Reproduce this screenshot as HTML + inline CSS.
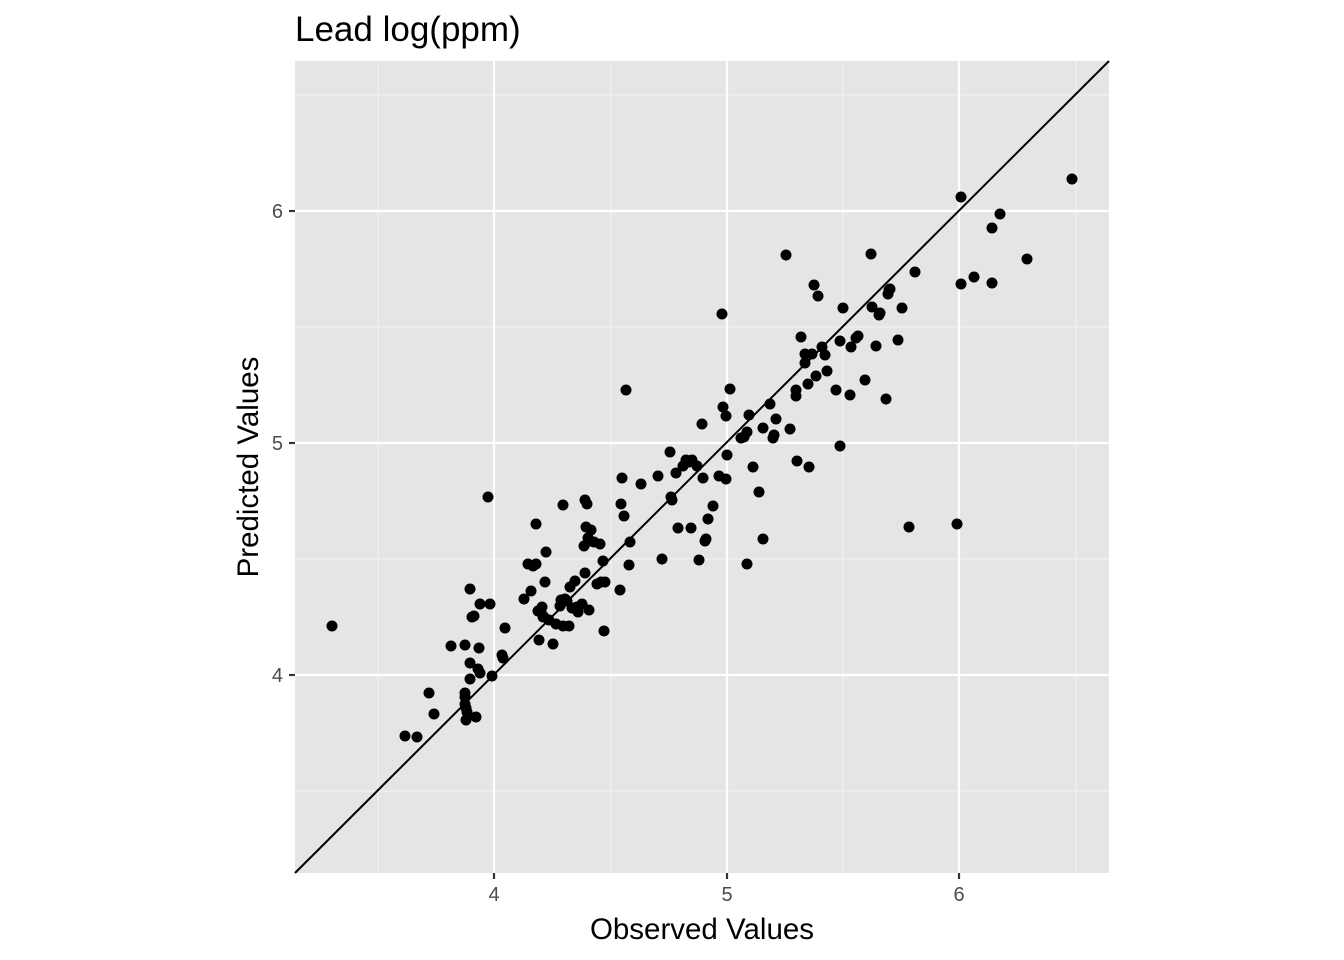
<!DOCTYPE html>
<html><head><meta charset="utf-8"><style>body{margin:0;background:#fff}svg{display:block}</style></head><body>
<svg width="1344" height="960" xmlns="http://www.w3.org/2000/svg" font-family="Liberation Sans, Arial, sans-serif">
<rect x="295" y="61" width="814" height="812" fill="#e5e5e5"/>
<g stroke="#f2f2f2" stroke-width="1.1">
<line x1="378" y1="61" x2="378" y2="873"/><line x1="611" y1="61" x2="611" y2="873"/><line x1="843" y1="61" x2="843" y2="873"/><line x1="1076" y1="61" x2="1076" y2="873"/>
<line x1="295" y1="95" x2="1109" y2="95"/><line x1="295" y1="327" x2="1109" y2="327"/><line x1="295" y1="559" x2="1109" y2="559"/><line x1="295" y1="791" x2="1109" y2="791"/>
</g>
<g stroke="#fff" stroke-width="2.2">
<line x1="494" y1="61" x2="494" y2="873"/><line x1="727" y1="61" x2="727" y2="873"/><line x1="959" y1="61" x2="959" y2="873"/>
<line x1="295" y1="211" x2="1109" y2="211"/><line x1="295" y1="443" x2="1109" y2="443"/><line x1="295" y1="675" x2="1109" y2="675"/>
</g>
<g fill="#000">
<circle cx="332" cy="626" r="5.5"/><circle cx="405" cy="736" r="5.5"/><circle cx="417" cy="737" r="5.5"/><circle cx="429" cy="693" r="5.5"/><circle cx="434" cy="714" r="5.5"/><circle cx="451" cy="646" r="5.5"/><circle cx="465" cy="645" r="5.5"/><circle cx="470" cy="589" r="5.5"/><circle cx="472" cy="617" r="5.5"/><circle cx="465" cy="693" r="5.5"/><circle cx="465" cy="704" r="5.5"/><circle cx="466" cy="708" r="5.5"/><circle cx="466" cy="720" r="5.5"/><circle cx="470" cy="663" r="5.5"/><circle cx="470" cy="679" r="5.5"/><circle cx="474" cy="616" r="5.5"/><circle cx="476" cy="717" r="5.5"/><circle cx="478" cy="669" r="5.5"/><circle cx="479" cy="648" r="5.5"/><circle cx="480" cy="604" r="5.5"/><circle cx="480" cy="673" r="5.5"/><circle cx="490" cy="604" r="5.5"/><circle cx="492" cy="676" r="5.5"/><circle cx="488" cy="497" r="5.5"/><circle cx="502" cy="655" r="5.5"/><circle cx="503" cy="658" r="5.5"/><circle cx="505" cy="628" r="5.5"/><circle cx="465" cy="697" r="5.5"/><circle cx="467" cy="712" r="5.5"/>
<circle cx="524" cy="599" r="5.5"/><circle cx="528" cy="564" r="5.5"/><circle cx="531" cy="591" r="5.5"/><circle cx="533" cy="566" r="5.5"/><circle cx="536" cy="524" r="5.5"/><circle cx="536" cy="564" r="5.5"/><circle cx="538" cy="611" r="5.5"/><circle cx="539" cy="640" r="5.5"/><circle cx="541" cy="612" r="5.5"/><circle cx="542" cy="607" r="5.5"/><circle cx="543" cy="617" r="5.5"/><circle cx="544" cy="617" r="5.5"/><circle cx="545" cy="582" r="5.5"/><circle cx="546" cy="552" r="5.5"/><circle cx="549" cy="620" r="5.5"/><circle cx="553" cy="644" r="5.5"/><circle cx="556" cy="624" r="5.5"/><circle cx="560" cy="606" r="5.5"/><circle cx="561" cy="600" r="5.5"/><circle cx="563" cy="505" r="5.5"/><circle cx="563" cy="626" r="5.5"/><circle cx="565" cy="599" r="5.5"/><circle cx="567" cy="601" r="5.5"/><circle cx="569" cy="626" r="5.5"/><circle cx="570" cy="587" r="5.5"/><circle cx="572" cy="608" r="5.5"/><circle cx="575" cy="581" r="5.5"/><circle cx="577" cy="607" r="5.5"/><circle cx="578" cy="612" r="5.5"/><circle cx="582" cy="604" r="5.5"/><circle cx="584" cy="546" r="5.5"/><circle cx="585" cy="573" r="5.5"/><circle cx="585" cy="500" r="5.5"/><circle cx="586" cy="527" r="5.5"/><circle cx="587" cy="504" r="5.5"/><circle cx="588" cy="538" r="5.5"/><circle cx="589" cy="610" r="5.5"/><circle cx="590" cy="541" r="5.5"/><circle cx="591" cy="530" r="5.5"/><circle cx="594" cy="542" r="5.5"/><circle cx="597" cy="584" r="5.5"/><circle cx="600" cy="544" r="5.5"/><circle cx="601" cy="582" r="5.5"/><circle cx="603" cy="561" r="5.5"/><circle cx="604" cy="631" r="5.5"/><circle cx="605" cy="582" r="5.5"/>
<circle cx="620" cy="590" r="5.5"/><circle cx="621" cy="504" r="5.5"/><circle cx="622" cy="478" r="5.5"/><circle cx="624" cy="516" r="5.5"/><circle cx="626" cy="390" r="5.5"/><circle cx="629" cy="565" r="5.5"/><circle cx="630" cy="542" r="5.5"/><circle cx="641" cy="484" r="5.5"/><circle cx="658" cy="476" r="5.5"/><circle cx="662" cy="559" r="5.5"/><circle cx="670" cy="452" r="5.5"/><circle cx="671" cy="497" r="5.5"/><circle cx="672" cy="500" r="5.5"/><circle cx="676" cy="473" r="5.5"/><circle cx="678" cy="528" r="5.5"/><circle cx="683" cy="466" r="5.5"/><circle cx="686" cy="460" r="5.5"/><circle cx="689" cy="462" r="5.5"/><circle cx="691" cy="528" r="5.5"/><circle cx="692" cy="460" r="5.5"/><circle cx="697" cy="466" r="5.5"/><circle cx="699" cy="560" r="5.5"/><circle cx="702" cy="424" r="5.5"/><circle cx="703" cy="478" r="5.5"/><circle cx="705" cy="541" r="5.5"/><circle cx="706" cy="539" r="5.5"/><circle cx="708" cy="519" r="5.5"/><circle cx="713" cy="506" r="5.5"/><circle cx="719" cy="476" r="5.5"/><circle cx="722" cy="314" r="5.5"/><circle cx="723" cy="407" r="5.5"/><circle cx="726" cy="416" r="5.5"/><circle cx="726" cy="479" r="5.5"/><circle cx="727" cy="455" r="5.5"/><circle cx="730" cy="389" r="5.5"/>
<circle cx="741" cy="438" r="5.5"/><circle cx="744" cy="437" r="5.5"/><circle cx="747" cy="432" r="5.5"/><circle cx="747" cy="564" r="5.5"/><circle cx="749" cy="415" r="5.5"/><circle cx="753" cy="467" r="5.5"/><circle cx="759" cy="492" r="5.5"/><circle cx="763" cy="428" r="5.5"/><circle cx="763" cy="539" r="5.5"/><circle cx="770" cy="404" r="5.5"/><circle cx="773" cy="438" r="5.5"/><circle cx="774" cy="435" r="5.5"/><circle cx="776" cy="419" r="5.5"/><circle cx="786" cy="255" r="5.5"/><circle cx="790" cy="429" r="5.5"/><circle cx="796" cy="390" r="5.5"/><circle cx="796" cy="396" r="5.5"/><circle cx="797" cy="461" r="5.5"/><circle cx="801" cy="337" r="5.5"/><circle cx="805" cy="354" r="5.5"/><circle cx="805" cy="363" r="5.5"/><circle cx="808" cy="384" r="5.5"/><circle cx="809" cy="467" r="5.5"/><circle cx="812" cy="354" r="5.5"/><circle cx="814" cy="285" r="5.5"/><circle cx="816" cy="376" r="5.5"/><circle cx="818" cy="296" r="5.5"/><circle cx="822" cy="347" r="5.5"/><circle cx="825" cy="355" r="5.5"/><circle cx="827" cy="371" r="5.5"/><circle cx="836" cy="390" r="5.5"/><circle cx="840" cy="341" r="5.5"/><circle cx="840" cy="446" r="5.5"/><circle cx="843" cy="308" r="5.5"/><circle cx="850" cy="395" r="5.5"/><circle cx="851" cy="347" r="5.5"/><circle cx="856" cy="338" r="5.5"/><circle cx="858" cy="336" r="5.5"/><circle cx="865" cy="380" r="5.5"/><circle cx="871" cy="254" r="5.5"/><circle cx="872" cy="307" r="5.5"/><circle cx="876" cy="346" r="5.5"/><circle cx="879" cy="315" r="5.5"/><circle cx="880" cy="313" r="5.5"/><circle cx="886" cy="399" r="5.5"/><circle cx="888" cy="294" r="5.5"/><circle cx="889" cy="290" r="5.5"/><circle cx="890" cy="289" r="5.5"/><circle cx="898" cy="340" r="5.5"/><circle cx="902" cy="308" r="5.5"/><circle cx="909" cy="527" r="5.5"/><circle cx="915" cy="272" r="5.5"/>
<circle cx="957" cy="524" r="5.5"/><circle cx="961" cy="197" r="5.5"/><circle cx="961" cy="284" r="5.5"/><circle cx="974" cy="277" r="5.5"/><circle cx="992" cy="228" r="5.5"/><circle cx="992" cy="283" r="5.5"/><circle cx="1000" cy="214" r="5.5"/><circle cx="1027" cy="259" r="5.5"/><circle cx="1072" cy="179" r="5.5"/>
</g>
<line x1="295" y1="873" x2="1109" y2="61" stroke="#000" stroke-width="2"/>
<g stroke="#333" stroke-width="2.2">
<line x1="494" y1="873" x2="494" y2="879"/><line x1="727" y1="873" x2="727" y2="879"/><line x1="959" y1="873" x2="959" y2="879"/>
<line x1="289" y1="211" x2="295" y2="211"/><line x1="289" y1="443" x2="295" y2="443"/><line x1="289" y1="675" x2="295" y2="675"/>
</g>
<g fill="#4d4d4d" font-size="20">
<text x="494" y="901" text-anchor="middle">4</text><text x="727" y="901" text-anchor="middle">5</text><text x="959" y="901" text-anchor="middle">6</text>
<text x="283" y="218" text-anchor="end">6</text><text x="283" y="450" text-anchor="end">5</text><text x="283" y="682" text-anchor="end">4</text>
</g>
<text x="702" y="939" text-anchor="middle" font-size="29.5">Observed Values</text>
<text transform="translate(258,467) rotate(-90)" text-anchor="middle" font-size="29.5">Predicted Values</text>
<text x="295" y="41" font-size="35">Lead log(ppm)</text>
</svg>
</body></html>
